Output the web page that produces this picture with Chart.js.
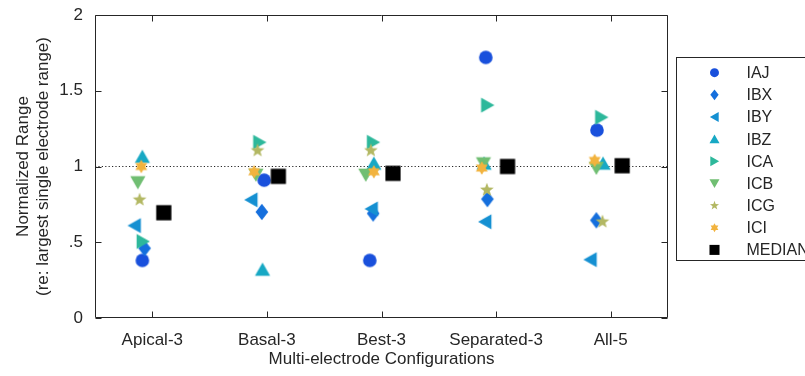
<!DOCTYPE html>
<html>
<head>
<meta charset="utf-8">
<script src="https://cdn.jsdelivr.net/npm/chart.js@4.4.1/dist/chart.umd.min.js"></script>
<style>
  html, body { margin: 0; padding: 0; background: #fff; }
  #wrap { width: 805px; height: 376px; position: relative; }
</style>
</head>
<body>
<div id="wrap"><canvas id="rangeChart"></canvas></div>
<script>
// Categories and tick labels
const configs = ["Apical-3", "Basal-3", "Best-3", "Separated-3", "All-5"];
const yTickValues = [0, 0.5, 1, 1.5, 2];
const yTickLabels = ["0", ".5", "1", "1.5", "2"];

// Normalized range per electrode (one value per configuration)
const iaj = [0.38, 0.91, 0.38, 1.72, 1.24];
const ibx = [0.46, 0.70, 0.69, 0.785, 0.645];
const iby = [0.61, 0.78, 0.72, 0.635, 0.385];
const ibz = [1.065, 0.32, 1.02, 1.02, 1.02];
const ica = [0.505, 1.16, 1.16, 1.405, 1.325];
const icb = [0.895, 0.945, 0.945, 1.02, 0.99];
const icg = [0.78, 1.105, 1.105, 0.845, 0.635];
const ici = [1.0, 0.965, 0.965, 0.99, 1.04];
const median = [0.695, 0.935, 0.955, 1.0, 1.005];

// Horizontal jitter of each point (x-axis units, relative to the category)
const iajJitter = [-0.087, -0.024, -0.102, -0.09, -0.12];
const ibxJitter = [-0.067, -0.044, -0.073, -0.076, -0.125];
const ibyJitter = [-0.155, -0.137, -0.087, -0.096, -0.177];
const ibzJitter = [-0.087, -0.038, -0.067, -0.105, -0.067];
const icaJitter = [-0.082, -0.065, -0.073, -0.076, -0.081];
const icbJitter = [-0.126, -0.096, -0.137, -0.11, -0.125];
const icgJitter = [-0.111, -0.082, -0.093, -0.081, -0.072];
const iciJitter = [-0.096, -0.111, -0.067, -0.125, -0.14];
const medianJitter = [0.1, 0.1, 0.1, 0.1, 0.1];

// Reference line at 1
const refSpan = [0.5, 5.5];
const refLevel = [1, 1];

const FONT = '"Liberation Sans", Arial, Helvetica, sans-serif';
const TXT = "#262626";

// name, values, jitter, marker shape, colour
const series = [
  { name: "IAJ", values: iaj, jitter: iajJitter, shape: "circle", color: "#1950dc" },
  { name: "IBX", values: ibx, jitter: ibxJitter, shape: "diamond", color: "#156fdd" },
  { name: "IBY", values: iby, jitter: ibyJitter, shape: "triLeft", color: "#1590d2" },
  { name: "IBZ", values: ibz, jitter: ibzJitter, shape: "triUp", color: "#17a8c4" },
  { name: "ICA", values: ica, jitter: icaJitter, shape: "triRight", color: "#2db89b" },
  { name: "ICB", values: icb, jitter: icbJitter, shape: "triDown", color: "#70be72" },
  { name: "ICG", values: icg, jitter: icgJitter, shape: "pentagram", color: "#b3b863" },
  { name: "ICI", values: ici, jitter: iciJitter, shape: "hexagram", color: "#f2b33e" },
  { name: "MEDIAN", values: median, jitter: medianJitter, shape: "square", color: "#000000" }
];

// Marker shapes (MATLAB-like)
function drawShape(g, shape, cx, cy, s, color) {
  g.fillStyle = color;
  g.beginPath();
  const poly = pts => {
    pts.forEach(([px, py], i) => i ? g.lineTo(cx + px * s, cy + py * s) : g.moveTo(cx + px * s, cy + py * s));
    g.closePath();
  };
  const star = (n, ro, ri) => {
    const pts = [];
    for (let k = 0; k < 2 * n; k++) {
      const r = k % 2 ? ri : ro;
      const a = -Math.PI / 2 + k * Math.PI / n;
      pts.push([r * Math.cos(a), r * Math.sin(a)]);
    }
    poly(pts);
  };
  switch (shape) {
    case "circle": g.arc(cx, cy, 6.8 * s, 0, 2 * Math.PI); break;
    case "diamond": poly([[0, -8.2], [6.3, 0], [0, 8.2], [-6.3, 0]]); break;
    case "triUp": poly([[0, -7], [7.6, 6.3], [-7.6, 6.3]]); break;
    case "triDown": poly([[0, 7], [7.6, -6.3], [-7.6, -6.3]]); break;
    case "triLeft": poly([[-7, 0], [6.3, -7.6], [6.3, 7.6]]); break;
    case "triRight": poly([[7, 0], [-6.3, -7.6], [-6.3, 7.6]]); break;
    case "pentagram": star(5, 7.2, 3); break;
    case "hexagram": star(6, 6.8, 3.9); break;
    case "square": poly([[-7.6, -7.6], [7.6, -7.6], [7.6, 7.6], [-7.6, 7.6]]); break;
  }
  g.fill();
}

function makeMarker(shape, color) {
  const c = document.createElement("canvas");
  c.width = c.height = 22;
  drawShape(c.getContext("2d"), shape, 11, 11, 1, color);
  return c;
}

const datasets = series.map((s, i) => ({
  type: "scatter",
  label: s.name,
  data: s.values.map((v, k) => ({ x: k + 1 + s.jitter[k], y: v })),
  pointStyle: makeMarker(s.shape, s.color),
  pointRadius: 8,
  backgroundColor: s.color,
  borderColor: s.color,
  order: series.length - i
}));

datasets.push({
  type: "line",
  label: "ref",
  data: refSpan.map((x, k) => ({ x: x, y: refLevel[k] })),
  borderColor: TXT,
  borderWidth: 1.2,
  borderDash: [1.2, 2.2],
  pointRadius: 0,
  order: 99
});

// White background
const bgPlugin = {
  id: "bg",
  beforeDraw(chart) {
    const ctx = chart.ctx;
    ctx.save();
    ctx.fillStyle = "#fff";
    ctx.fillRect(0, 0, chart.width, chart.height);
    ctx.restore();
  }
};

// Box with inward ticks on all four sides
const boxPlugin = {
  id: "boxAxes",
  afterDatasetsDraw(chart) {
    const { ctx, chartArea: a, scales: { x, y } } = chart;
    const L = Math.round(a.left) + 0.5, R = Math.round(a.right) - 0.5;
    const T = Math.round(a.top) + 0.5, B = Math.round(a.bottom) - 0.5;
    ctx.save();
    ctx.strokeStyle = TXT;
    ctx.lineWidth = 1;
    ctx.beginPath();
    ctx.rect(L, T, R - L, B - T);
    x.ticks.forEach(t => {
      const px = Math.round(x.getPixelForValue(t.value)) + 0.5;
      ctx.moveTo(px, B); ctx.lineTo(px, B - 6);
      ctx.moveTo(px, T); ctx.lineTo(px, T + 6);
    });
    y.ticks.forEach(t => {
      const py = Math.round(y.getPixelForValue(t.value)) + 0.5;
      ctx.moveTo(L, py); ctx.lineTo(L + 6, py);
      ctx.moveTo(R, py); ctx.lineTo(R - 6, py);
    });
    ctx.stroke();
    ctx.restore();
  }
};

// Legend box on the right (partly outside the canvas, as in the figure)
const legendPlugin = {
  id: "boxLegend",
  afterDraw(chart) {
    const ctx = chart.ctx;
    ctx.save();
    ctx.strokeStyle = TXT;
    ctx.lineWidth = 1;
    ctx.strokeRect(676.5, 57.5, 200, 203);
    ctx.font = "16px " + FONT;
    ctx.textBaseline = "middle";
    series.forEach((s, i) => {
      const yy = 72.7 + i * 22.15;
      drawShape(ctx, s.shape, 714.5, yy, 0.66, s.color);
      ctx.fillStyle = TXT;
      ctx.fillText(s.name, 746.5, yy + 1);
    });
    ctx.restore();
  }
};

Chart.defaults.font.family = FONT;
Chart.defaults.color = TXT;

new Chart(document.getElementById("rangeChart"), {
  data: { datasets: datasets },
  options: {
    responsive: true,
    maintainAspectRatio: false,
    animation: false,
    layout: { padding: { top: 15, right: 137, left: 0, bottom: 0 } },
    plugins: {
      legend: { display: false },
      tooltip: { enabled: false }
    },
    scales: {
      x: {
        type: "linear",
        min: 0.5,
        max: 5.5,
        afterBuildTicks: s => { s.ticks = configs.map((c, i) => ({ value: i + 1 })); },
        afterFit: s => { s.height = 58; s.paddingLeft = 0; s.paddingRight = 0; },
        grid: { display: false, drawTicks: false },
        border: { display: false },
        ticks: {
          callback: v => configs[Math.round(v) - 1],
          font: { size: 17 },
          color: TXT,
          padding: 12,
          maxRotation: 0,
          autoSkip: false
        },
        title: {
          display: true,
          text: "Multi-electrode Configurations",
          font: { size: 17, lineHeight: 1.2 },
          color: TXT,
          padding: { top: 0, bottom: 6 }
        }
      },
      y: {
        type: "linear",
        min: 0,
        max: 2,
        afterBuildTicks: s => { s.ticks = yTickValues.map(v => ({ value: v })); },
        afterFit: s => { s.width = 95; s.paddingTop = 0; s.paddingBottom = 0; },
        grid: { display: false, drawTicks: false },
        border: { display: false },
        ticks: {
          callback: (v, i) => yTickLabels[i],
          font: { size: 17 },
          color: TXT,
          padding: 12
        },
        title: {
          display: true,
          text: ["Normalized Range", "(re: largest single electrode range)"],
          font: { size: 17, lineHeight: 1.18 },
          color: TXT,
          padding: { top: 13, bottom: 0 }
        }
      }
    }
  },
  plugins: [bgPlugin, boxPlugin, legendPlugin]
});
</script>
</body>
</html>
